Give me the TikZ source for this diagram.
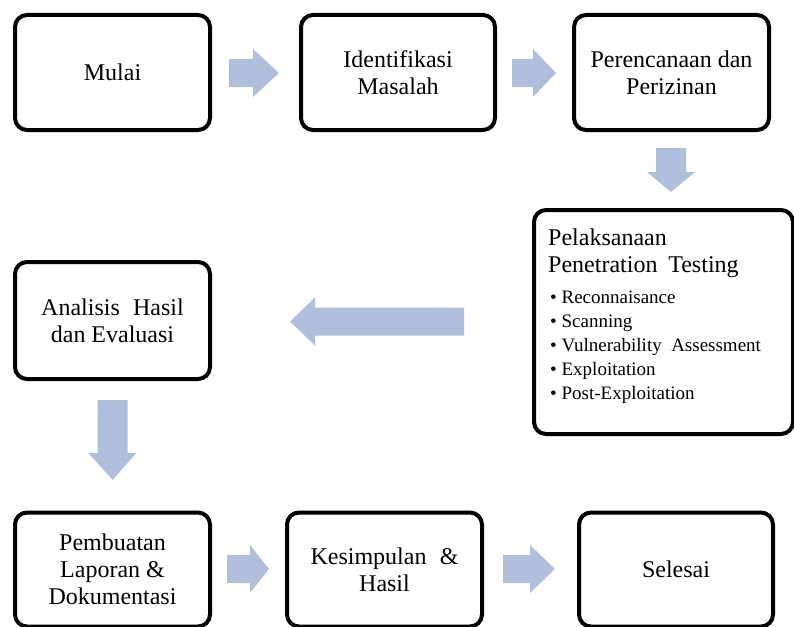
\documentclass[tikz,border=0pt]{standalone}
\usepackage{fontspec}
\setmainfont{Liberation Serif}[Ligatures={NoCommon}]
\definecolor{arrowfill}{RGB}{176,192,220}
\tikzset{
  box/.style={draw=black, line width=4pt, rounded corners=12pt, fill=white,
    align=center, font=\fontsize{24}{27}\selectfont, inner sep=2pt},
  flow/.style={fill=arrowfill, draw=none},
  titletext/.style={anchor=north west, inner sep=0pt, align=left,
    font=\fontsize{24}{27}\selectfont},
  listtext/.style={anchor=north west, inner sep=0pt, align=left,
    font=\fontsize{19}{24.2}\selectfont},
}
\newcommand{\flowright}[4]{%
  \fill[flow] (#1,#4-14) -- (#2,#4-14) -- (#2,#4-24) -- (#3,#4) --
    (#2,#4+24) -- (#2,#4+14) -- (#1,#4+14) -- cycle;}
\newcommand{\flowdown}[4]{%
  \fill[flow] (#1-15,#2) -- (#1+15,#2) -- (#1+15,#3) -- (#1+24,#3) --
    (#1,#4) -- (#1-24,#3) -- (#1-15,#3) -- cycle;}
\begin{document}
\begin{tikzpicture}[x=1pt, y=-1pt]
\useasboundingbox (0,0) rectangle (794,626);
\clip (0,0) rectangle (794,626);
\fill[white] (0,0) rectangle (794,626);

% boxes
\node[box, minimum width=195pt, minimum height=115pt] (mulai) at (112.5,72.5) {Mulai};
\node[box, minimum width=194pt, minimum height=115pt] (ident) at (398,72.5) {Identifikasi\\Masalah};
\node[box, minimum width=195pt, minimum height=115pt] (renc) at (671.5,72.5) {Perencanaan dan\\Perizinan};
\node[box, minimum width=259pt, minimum height=224pt] (pelak) at (663.5,322) {};
\node[titletext] (pelaktitle) at (548,228.7) {Pelaksanaan\\Penetration\hspace{0.2em} Testing};
\node[listtext] (pelaklist) at (550,290.4) {%
  • Reconnaisance\\
  • Scanning\\
  • Vulnerability\hspace{0.25em} Assessment\\
  • Exploitation\\
  • Post-Exploitation};
\node[box, minimum width=195pt, minimum height=117pt] (analisis) at (112.5,320.5) {Analisis\hspace{0.3em} Hasil\\dan Evaluasi};
\node[box, minimum width=195pt, minimum height=114pt] (pembuatan) at (112.5,569.5) {Pembuatan\\Laporan \&\\Dokumentasi};
\node[box, minimum width=195pt, minimum height=114pt] (kesimpulan) at (384.5,569.5) {Kesimpulan\hspace{0.3em} \&\\Hasil};
\node[box, minimum width=194pt, minimum height=114pt] (selesai) at (676,569.5) {Selesai};

% block arrows
\flowright{229}{253}{279}{73}
\flowright{512}{533}{556}{73}
\flowdown{671}{148}{172}{192}
\fill[flow] (464,307.5) -- (315,307.5) -- (315,297.5) -- (290,321.5) --
  (315,345.5) -- (315,335.5) -- (464,335.5) -- cycle;
\flowdown{112.5}{400}{453}{480}
\flowright{227}{250}{269}{569}
\flowright{503}{530}{555}{569}
\end{tikzpicture}
\end{document}
